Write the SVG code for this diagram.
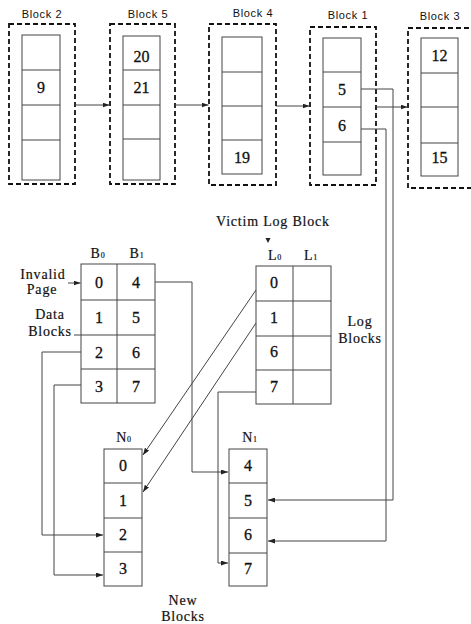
<svg xmlns="http://www.w3.org/2000/svg" width="471" height="624" viewBox="0 0 471 624">
<style>
.dash{fill:none;stroke:#111;stroke-width:1.8;stroke-dasharray:5 3}
.cell{fill:none;stroke:#444;stroke-width:1}
.conn{fill:none;stroke:#444;stroke-width:1}
.num{font-family:"Liberation Serif","Times New Roman",serif;font-size:16px;text-anchor:middle;fill:#111;stroke:#111;stroke-width:0.3}
.lbl{font-family:"Liberation Serif","Times New Roman",serif;font-size:14px;letter-spacing:0.8px;text-anchor:middle;fill:#111;stroke:#111;stroke-width:0.2}
.blk{font-family:"Liberation Sans",Arial,sans-serif;font-size:11px;letter-spacing:0.6px;text-anchor:middle;fill:#111}
.sub{font-size:8px}
</style>
<defs>
<marker id="ah" viewBox="0 0 7 5" refX="7" refY="2.5" markerWidth="7" markerHeight="5" markerUnits="userSpaceOnUse" orient="auto">
<path d="M0,0 L7,2.5 L0,5 z" fill="#222"/>
</marker>
</defs>
<rect width="471" height="624" fill="#fff"/>

<g id="block2">
<text class="blk" x="42" y="18">Block 2</text>
<rect class="dash" x="9" y="24" width="66" height="160"/>
<rect class="cell" x="22" y="35" width="38" height="145"/>
<path class="cell" d="M22,70H60M22,105H60M22,140H60"/>
<text class="num" x="41" y="93">9</text>
</g>
<g id="block5">
<text class="blk" x="148" y="18">Block 5</text>
<rect class="dash" x="110" y="24" width="65" height="160"/>
<rect class="cell" x="123" y="36" width="37" height="144"/>
<path class="cell" d="M123,70H160M123,105H160M123,139H160"/>
<text class="num" x="141.5" y="62">20</text>
<text class="num" x="141.5" y="93">21</text>
</g>
<g id="block4">
<text class="blk" x="253" y="17">Block 4</text>
<rect class="dash" x="209" y="24" width="67" height="161"/>
<rect class="cell" x="222" y="37" width="40" height="137"/>
<path class="cell" d="M222,72H262M222,106H262M222,140H262"/>
<text class="num" x="242" y="163">19</text>
</g>
<g id="block1">
<text class="blk" x="348" y="19">Block 1</text>
<rect class="dash" x="310" y="27" width="66" height="158"/>
<rect class="cell" x="323" y="38" width="38" height="137"/>
<path class="cell" d="M323,72H361M323,107H361M323,142H361"/>
<text class="num" x="342" y="95">5</text>
<text class="num" x="342" y="131">6</text>
</g>
<g id="block3">
<text class="blk" x="440" y="20">Block 3</text>
<rect class="dash" x="408" y="28" width="72" height="160"/>
<rect class="cell" x="421" y="38" width="37" height="138"/>
<path class="cell" d="M421,73H458M421,107H458M421,143H458"/>
<text class="num" x="439.5" y="61">12</text>
<text class="num" x="439.5" y="163">15</text>
</g>

<g id="data-blocks">
<text class="lbl" x="98" y="258">B<tspan class="sub">0</tspan></text>
<text class="lbl" x="137" y="258">B<tspan class="sub">1</tspan></text>
<rect class="cell" x="81" y="264" width="74" height="139"/>
<path class="cell" d="M117,264V403M81,300H155M81,335H155M81,369H155"/>
<text class="num" x="99" y="288">0</text>
<text class="num" x="99" y="323">1</text>
<text class="num" x="99" y="357.5">2</text>
<text class="num" x="99" y="391.5">3</text>
<text class="num" x="136" y="288">4</text>
<text class="num" x="136" y="323">5</text>
<text class="num" x="136" y="357.5">6</text>
<text class="num" x="136" y="391.5">7</text>
<text class="lbl" x="43" y="279">Invalid</text>
<text class="lbl" x="42" y="294">Page</text>
<text class="lbl" x="50" y="319">Data</text>
<text class="lbl" x="50" y="336">Blocks</text>
</g>

<g id="log-blocks">
<text class="lbl" x="273" y="226">Victim Log Block</text>
<path d="M265.5,238 L270.5,238 L268,243 z" fill="#222"/>
<text class="lbl" x="275" y="260">L<tspan class="sub">0</tspan></text>
<text class="lbl" x="311" y="260">L<tspan class="sub">1</tspan></text>
<rect class="cell" x="256" y="266" width="75" height="138"/>
<path class="cell" d="M293,266V404M256,301H331M256,336H331M256,370H331"/>
<text class="num" x="274" y="288">0</text>
<text class="num" x="274" y="323">1</text>
<text class="num" x="274" y="357">6</text>
<text class="num" x="274" y="392">7</text>
<text class="lbl" x="360" y="326">Log</text>
<text class="lbl" x="360" y="343">Blocks</text>
</g>

<g id="new-block-n0">
<text class="lbl" x="124" y="442">N<tspan class="sub">0</tspan></text>
<rect class="cell" x="104" y="449" width="38" height="137"/>
<path class="cell" d="M104,483H142M104,518H142M104,552H142"/>
<text class="num" x="123" y="471">0</text>
<text class="num" x="123" y="506">1</text>
<text class="num" x="123" y="540">2</text>
<text class="num" x="123" y="574">3</text>
</g>
<g id="new-block-n1">
<text class="lbl" x="250" y="442">N<tspan class="sub">1</tspan></text>
<rect class="cell" x="229" y="449" width="38" height="137"/>
<path class="cell" d="M229,483H267M229,518H267M229,553H267"/>
<text class="num" x="248" y="471">4</text>
<text class="num" x="248" y="506">5</text>
<text class="num" x="248" y="540">6</text>
<text class="num" x="248" y="574">7</text>
<text class="lbl" x="183" y="605">New</text>
<text class="lbl" x="183" y="621">Blocks</text>
</g>

<g id="connectors">
<path class="conn" d="M75,105H109.5" marker-end="url(#ah)"/>
<path class="conn" d="M175,105H208.5" marker-end="url(#ah)"/>
<path class="conn" d="M276,106H309.5" marker-end="url(#ah)"/>
<path class="conn" d="M376,107H407.5" marker-end="url(#ah)"/>
<path class="conn" d="M361,89H393V500H268" marker-end="url(#ah)"/>
<path class="conn" d="M361,129H386V541H268" marker-end="url(#ah)"/>
<path class="conn" d="M155,282H192V472H228" marker-end="url(#ah)"/>
<path class="conn" d="M256,392H218V563H228" marker-end="url(#ah)"/>
<path class="conn" d="M256,290L143,455" marker-end="url(#ah)"/>
<path class="conn" d="M256,323L143,492" marker-end="url(#ah)"/>
<path class="conn" d="M81,352H42V535H103" marker-end="url(#ah)"/>
<path class="conn" d="M81,385H54V575H103" marker-end="url(#ah)"/>
<path class="conn" d="M68,283H80.5" marker-end="url(#ah)"/>
<path class="conn" d="M74,335H81"/>
</g>
</svg>
